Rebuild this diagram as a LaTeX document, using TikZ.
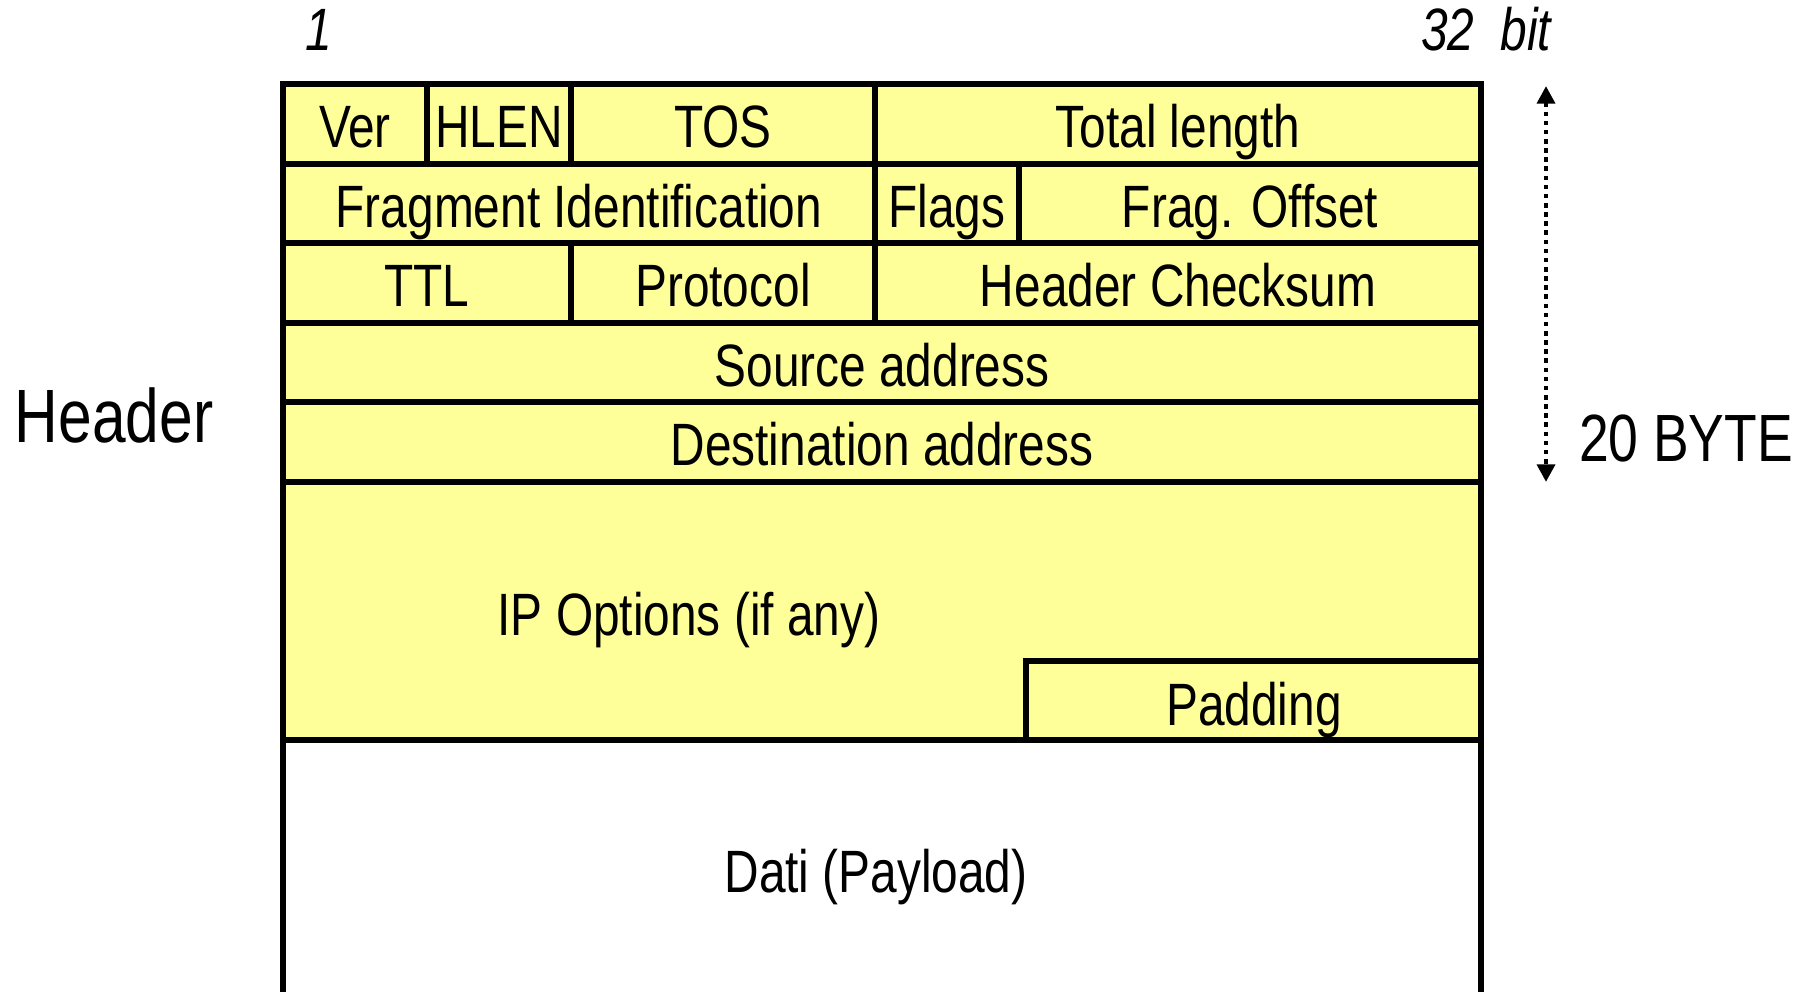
\documentclass[tikz,border=0pt]{standalone}
\usepackage{fontspec}
\setmainfont[FakeStretch=0.8]{Liberation Sans}
\usetikzlibrary{arrows.meta}
\definecolor{fieldyellow}{RGB}{255,255,153}

\begin{document}
\begin{tikzpicture}[x=0.01cm, y=-0.01cm,
	field/.style={draw=black, fill=fieldyellow, line width=1.7pt},
	fieldtext/.style={anchor=base, inner sep=0pt, font=\fontsize{17}{20}\selectfont}]
	\useasboundingbox (0, 0) rectangle (1812, 992);

	% row 1
	\draw[field] (283, 84) rectangle (427, 164);
	\draw[field] (427, 84) rectangle (571, 164);
	\draw[field] (571, 84) rectangle (875, 164);
	\draw[field] (875, 84) rectangle (1481, 164);
	% row 2
	\draw[field] (283, 164) rectangle (875, 243);
	\draw[field] (875, 164) rectangle (1019, 243);
	\draw[field] (1019, 164) rectangle (1481, 243);
	% row 3
	\draw[field] (283, 243) rectangle (571, 323);
	\draw[field] (571, 243) rectangle (875, 323);
	\draw[field] (875, 243) rectangle (1481, 323);
	% rows 4, 5 and options
	\draw[field] (283, 323) rectangle (1481, 402);
	\draw[field] (283, 402) rectangle (1481, 482);
	\draw[field] (283, 482) rectangle (1481, 740);
	\draw[field] (1026, 661) rectangle (1481, 740);
	% payload
	\draw[line width=1.7pt] (283, 740) -- (283, 992);
	\draw[line width=1.7pt] (1481, 740) -- (1481, 992);

	\node[fieldtext] (ver) at (355, 148) {Ver};
	\node[fieldtext] (hlen) at (499, 148) {HLEN};
	\node[fieldtext] (tos) at (723, 148) {TOS};
	\node[fieldtext] (totlen) at (1178, 148) {Total length};
	\node[fieldtext] (fragid) at (579, 228) {Fragment Identification};
	\node[fieldtext] (flags) at (947, 228) {Flags};
	\node[fieldtext] (fragoff) at (1250, 228) {Frag. Offset};
	\node[fieldtext] (ttl) at (427, 307) {TTL};
	\node[fieldtext] (proto) at (723, 307) {Protocol};
	\node[fieldtext] (checksum) at (1178, 307) {Header Checksum};
	\node[fieldtext] (src) at (882, 387) {Source address};
	\node[fieldtext] (dst) at (882, 466) {Destination address};
	\node[fieldtext] (options) at (689, 636) {IP Options (if any)};
	\node[fieldtext] (padding) at (1254, 726) {Padding};
	\node[fieldtext] (payload) at (876, 893) {Dati (Payload)};

	\node[fieldtext, font=\fontsize{17}{20}\selectfont\itshape] (bit-first) at (319, 51) {1};
	\node[fieldtext, anchor=base east, font=\fontsize{17}{20}\selectfont\itshape] (bit-last) at (1552, 51) {32\ \ bit};
	\node[fieldtext, font=\fontsize{21.5}{24}\selectfont] (header) at (114, 443) {Header};
	\node[fieldtext, font=\fontsize{19}{22}\selectfont] (bytes) at (1686, 462) {20 BYTE};

	\coordinate (byte-top) at (1546, 86);
	\coordinate (byte-bottom) at (1546, 482);
	\draw[line width=1.3pt, dash pattern=on 1.3pt off 1.3pt, {Triangle[length=5pt,width=5pt]}-{Triangle[length=5pt,width=5pt]}] (byte-top) -- (byte-bottom);
\end{tikzpicture}
\end{document}
